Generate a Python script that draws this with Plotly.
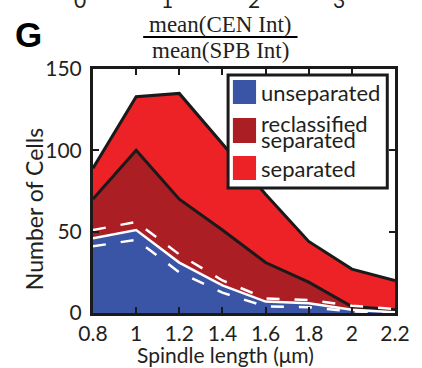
import numpy as np
import plotly.graph_objects as go

# ---- data ----
spindle_length = [0.8, 1.0, 1.2, 1.4, 1.6, 1.8, 2.0, 2.2]
unseparated = [46, 51, 31, 17, 7, 6, 2, 0.5]
reclassified = [24, 49, 39, 34, 24, 13, 2, 1.5]
separated = [19, 33, 65, 53, 42, 25, 23, 18]
unsep_upper = [51, 56, 36, 20, 9, 8, 4.5, 2.5]
unsep_lower = [41, 45, 25, 12.5, 4, 3.5, 1, 0]
x_ticks = [0.8, 1.0, 1.2, 1.4, 1.6, 1.8, 2.0, 2.2]
x_ticklabels = ["0.8", "1", "1.2", "1.4", "1.6", "1.8", "2", "2.2"]
y_ticks = [0, 50, 100, 150]
legend_labels = ["unseparated", "reclassified", "separated", "separated"]
top_labels = ["0", "1", "2", "3"]

BLUE = "#3A55A5"
DRED = "#AB1E24"
RED = "#EC2227"
SANS = "Lato"
SERIF = "Liberation Serif"

W, H = 422, 368
L, R, T, B = 93, 16, 69, 55
PW, PH = W - L - R, H - T - B


def px(xp):
    return (xp - L) / PW


def py(yp):
    return (H - B - yp) / PH


unsep = np.array(unseparated, float)
top_dr = unsep + np.array(reclassified, float)
top_all = top_dr + np.array(separated, float)

fig = go.Figure()
fig.add_trace(go.Scatter(x=spindle_length, y=top_all, mode="lines", fill="tozeroy",
                         fillcolor=RED, line=dict(color="#1a1a1a", width=3), showlegend=False))
fig.add_trace(go.Scatter(x=spindle_length, y=top_dr, mode="lines", fill="tozeroy",
                         fillcolor=DRED, line=dict(color="#1a1a1a", width=3), showlegend=False))
fig.add_trace(go.Scatter(x=spindle_length, y=unsep, mode="lines", fill="tozeroy",
                         fillcolor=BLUE, line=dict(color="white", width=2.5), showlegend=False))
for band in (unsep_upper, unsep_lower):
    fig.add_trace(go.Scatter(x=spindle_length, y=band, mode="lines",
                             line=dict(color="white", width=2.5, dash="13px,15px"),
                             showlegend=False))

axis_common = dict(showline=True, linewidth=3, linecolor="#1a1a1a", mirror="ticks",
                   ticks="inside", ticklen=6, tickwidth=1.5, tickcolor="#1a1a1a",
                   showgrid=False, zeroline=False,
                   tickfont=dict(family=SANS, size=21, color="#231f20"))
fig.update_xaxes(range=[0.8, 2.2], tickvals=x_ticks, ticktext=x_ticklabels, **axis_common)
fig.update_yaxes(range=[0, 150], tickvals=y_ticks, ticklabelstandoff=4, **axis_common)

shapes = []
annotations = []
# legend box
shapes.append(dict(type="rect", xref="paper", yref="paper", x0=px(233), x1=px(398),
                   y0=py(188), y1=py(75), fillcolor="white",
                   line=dict(color="#1a1a1a", width=3), layer="above"))
for (y0, y1), c in zip([(80, 104), (118, 143), (156, 180)], [BLUE, DRED, RED]):
    shapes.append(dict(type="rect", xref="paper", yref="paper", x0=px(238), x1=px(262),
                       y0=py(y1), y1=py(y0), fillcolor=c, line=dict(width=0), layer="above"))
for lab, yc in zip(legend_labels, [92, 123, 139, 168]):
    annotations.append(dict(text=lab, xref="paper", yref="paper", x=px(265), y=py(yc),
                            xanchor="left", yanchor="middle", showarrow=False,
                            font=dict(family=SANS, size=22, color="#231f20")))
# fraction title
shapes.append(dict(type="line", xref="paper", yref="paper", x0=px(145), x1=px(305),
                   y0=py(37), y1=py(37), line=dict(color="black", width=2)))
annotations.append(dict(text="mean(CEN Int)", xref="paper", yref="paper", x=px(225), y=py(24),
                        xanchor="center", yanchor="middle", showarrow=False,
                        font=dict(family=SERIF, size=23, color="#231f20")))
annotations.append(dict(text="mean(SPB Int)", xref="paper", yref="paper", x=px(225), y=py(50),
                        xanchor="center", yanchor="middle", showarrow=False,
                        font=dict(family=SERIF, size=23, color="#231f20")))
# panel letter
annotations.append(dict(text="<b>G</b>", xref="paper", yref="paper", x=px(26), y=py(35),
                        xanchor="center", yanchor="middle", showarrow=False,
                        font=dict(family="Liberation Sans", size=35, color="black")))
# cut-off tick labels of panel above
for lab, xc in zip(top_labels, [80, 170, 260, 348]):
    annotations.append(dict(text=lab, xref="paper", yref="paper", x=px(xc), y=py(0),
                            xanchor="center", yanchor="middle", showarrow=False,
                            font=dict(family=SANS, size=21, color="#231f20")))
# axis titles
annotations.append(dict(text="Spindle length (\u03bcm)", xref="paper", yref="paper",
                        x=px(230), y=py(354), xanchor="center", yanchor="middle",
                        showarrow=False, font=dict(family=SANS, size=21, color="#231f20")))
annotations.append(dict(text="Number of Cells", xref="paper", yref="paper",
                        x=px(32), y=py(209), xanchor="center", yanchor="middle",
                        textangle=-90, showarrow=False,
                        font=dict(family=SANS, size=23, color="#231f20")))

fig.update_layout(width=W, height=H, margin=dict(l=L, r=R, t=T, b=B),
                  paper_bgcolor="white", plot_bgcolor="white",
                  shapes=shapes, annotations=annotations, showlegend=False)
fig.write_html("out.html")
